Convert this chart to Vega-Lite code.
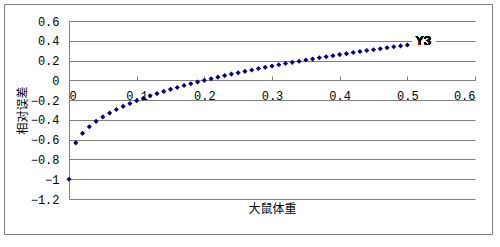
{
  "$schema": "https://vega.github.io/schema/vega-lite/v6.json",
  "autosize": {"type": "none"},
  "width": 488,
  "height": 230,
  "padding": {"left": 4, "top": 4, "right": 8, "bottom": 13},
  "background": "white",
  "config": {
    "view": {"stroke": "#808080", "strokeWidth": 1},
    "axis": {"labelColor": "#000", "titleColor": "#000", "labelFont": "Liberation Mono", "labelFontSize": 12, "titleFont": "Noto Sans CJK SC", "titleFontSize": 12, "titleFontWeight": "normal", "labelOverlap": false}
  },
  "data": {"values": [
    {"weight": 0.00, "err": -1.000}, {"weight": 0.01, "err": -0.632}, {"weight": 0.02, "err": -0.536},
    {"weight": 0.03, "err": -0.469}, {"weight": 0.04, "err": -0.415}, {"weight": 0.05, "err": -0.370},
    {"weight": 0.06, "err": -0.331}, {"weight": 0.07, "err": -0.295}, {"weight": 0.08, "err": -0.263},
    {"weight": 0.09, "err": -0.234}, {"weight": 0.10, "err": -0.206}, {"weight": 0.11, "err": -0.181},
    {"weight": 0.12, "err": -0.157}, {"weight": 0.13, "err": -0.134}, {"weight": 0.14, "err": -0.112},
    {"weight": 0.15, "err": -0.091}, {"weight": 0.16, "err": -0.072}, {"weight": 0.17, "err": -0.053},
    {"weight": 0.18, "err": -0.035}, {"weight": 0.19, "err": -0.017}, {"weight": 0.20, "err": 0.000},
    {"weight": 0.21, "err": 0.016}, {"weight": 0.22, "err": 0.032}, {"weight": 0.23, "err": 0.048},
    {"weight": 0.24, "err": 0.063}, {"weight": 0.25, "err": 0.077}, {"weight": 0.26, "err": 0.091},
    {"weight": 0.27, "err": 0.105}, {"weight": 0.28, "err": 0.119}, {"weight": 0.29, "err": 0.132},
    {"weight": 0.30, "err": 0.145}, {"weight": 0.31, "err": 0.157}, {"weight": 0.32, "err": 0.170},
    {"weight": 0.33, "err": 0.182}, {"weight": 0.34, "err": 0.193}, {"weight": 0.35, "err": 0.205},
    {"weight": 0.36, "err": 0.216}, {"weight": 0.37, "err": 0.228}, {"weight": 0.38, "err": 0.239},
    {"weight": 0.39, "err": 0.249}, {"weight": 0.40, "err": 0.260}, {"weight": 0.41, "err": 0.270},
    {"weight": 0.42, "err": 0.281}, {"weight": 0.43, "err": 0.291}, {"weight": 0.44, "err": 0.301},
    {"weight": 0.45, "err": 0.310}, {"weight": 0.46, "err": 0.320}, {"weight": 0.47, "err": 0.330},
    {"weight": 0.48, "err": 0.339}, {"weight": 0.49, "err": 0.348}, {"weight": 0.50, "err": 0.357}
  ]},
  "layer": [
    {
      "mark": {"type": "point", "shape": "diamond", "filled": true, "size": 26, "color": "#000080", "opacity": 1},
      "encoding": {
        "x": {
          "field": "weight", "type": "quantitative",
          "scale": {"domain": [0, 0.6], "range": [65, 471], "nice": false, "zero": false},
          "axis": {
            "orient": "bottom", "offset": -154, "values": [0, 0.1, 0.2, 0.3, 0.4, 0.5, 0.6], "format": "~g", "tickCount": 10,
            "grid": false, "domainColor": "#808080", "tickColor": "#808080", "tickSize": -4, "labelPadding": 14, "labelOverlap": false,
            "title": "大鼠体重", "titleX": 268, "titleY": 128, "titleBaseline": "middle", "titleAlign": "center"
          }
        },
        "y": {
          "field": "err", "type": "quantitative",
          "scale": {"domain": [-1.2, 0.6], "range": [195, 17], "nice": false, "zero": false},
          "axis": {
            "orient": "left", "offset": -65, "values": [-1.2, -1, -0.8, -0.6, -0.4, -0.2, 0, 0.2, 0.4, 0.6], "format": "~g", "tickCount": 12,
            "grid": true, "gridColor": "#808080", "gridWidth": 1, "gridOpacity": 1, "domainColor": "#808080", "ticks": false, "labelPadding": 10,
            "labelOverlap": false, "labelBound": false, "labelFlush": false,
            "title": "相对误差", "titleX": -47, "titleY": 106, "titleAngle": -90, "titleBaseline": "middle", "titleAlign": "center"
          }
        }
      }
    },
    {
      "mark": {"type": "rect", "color": "white", "opacity": 1},
      "encoding": {
        "x": {"datum": 0.508, "type": "quantitative"}, "x2": {"datum": 0.541},
        "y": {"datum": 0.37, "type": "quantitative"}, "y2": {"datum": 0.43}
      }
    },
    {
      "mark": {"type": "text", "text": "Y3", "font": "Liberation Mono", "fontSize": 13, "color": "#000"},
      "encoding": {"x": {"datum": 0.524, "type": "quantitative"}, "y": {"datum": 0.4, "type": "quantitative"}}
    }
  ]
}
